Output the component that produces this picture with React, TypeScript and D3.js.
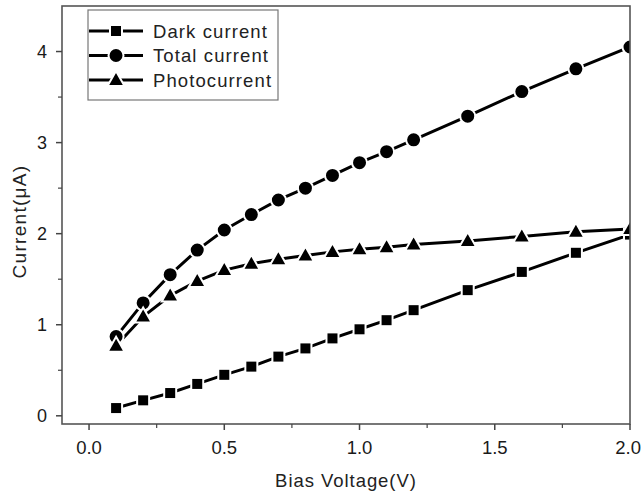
import React from "react";
import * as d3 from "d3";

const voltage = [0.1, 0.2, 0.3, 0.4, 0.5, 0.6, 0.7, 0.8, 0.9, 1.0, 1.1, 1.2, 1.4, 1.6, 1.8, 2.0];
const darkCurrent = [0.085, 0.17, 0.25, 0.35, 0.45, 0.54, 0.65, 0.74, 0.85, 0.95, 1.05, 1.16, 1.38, 1.58, 1.79, 1.99];
const totalCurrent = [0.87, 1.24, 1.55, 1.82, 2.04, 2.21, 2.37, 2.5, 2.64, 2.78, 2.9, 3.03, 3.29, 3.56, 3.81, 4.05];
const photoCurrent = [0.77, 1.09, 1.32, 1.48, 1.6, 1.67, 1.72, 1.76, 1.8, 1.83, 1.85, 1.88, 1.92, 1.97, 2.02, 2.05];
const seriesNames = ["Dark current", "Total current", "Photocurrent"];
const markerKinds = ["square", "circle", "triangle"];
const xTicks = [0.0, 0.5, 1.0, 1.5, 2.0];
const yTicks = [0, 1, 2, 3, 4];
const xLabel = "Bias Voltage(V)";
const yLabel = "Current(μA)";

const W = 642;
const H = 495;
const left = 62, right = 630, top = 6, bottom = 424;
const FONT = "'Liberation Sans', Arial, sans-serif";

function Marker({ kind, x, y }: { kind: string; x: number; y: number }) {
  if (kind === "square") {
    return <rect x={x - 6} y={y - 6} width={12} height={12} fill="#000" stroke="#fff" strokeWidth={2} />;
  }
  if (kind === "circle") {
    return <circle cx={x} cy={y} r={7.5} fill="#000" stroke="#fff" strokeWidth={2} />;
  }
  const s = 8.5;
  const h = 15;
  return (
    <path
      d={`M${x},${y - h * 0.6}L${x + s},${y + h * 0.4}L${x - s},${y + h * 0.4}Z`}
      fill="#000"
      stroke="#fff"
      strokeWidth={2}
    />
  );
}

export default function App() {
  const x = d3.scaleLinear().domain([-0.1, 2.0]).range([left, right]);
  const y = d3.scaleLinear().domain([-0.09, 4.5]).range([bottom, top]);
  const allSeries = [darkCurrent, totalCurrent, photoCurrent];
  const line = d3
    .line<number>()
    .x((_, i) => x(voltage[i]))
    .y((d) => y(d));
  const xMinor = d3.range(0.25, 2.0, 0.5);
  const yMinor = d3.range(0.5, 4.5, 1);

  return (
    <svg width={W} height={H} style={{ position: "absolute", left: 0, top: 0, background: "#fff" }}>
      <defs>
        <clipPath id="plotclip">
          <rect x={left} y={top} width={right - left} height={bottom - top} />
        </clipPath>
      </defs>
      <rect x={0} y={0} width={W} height={H} fill="#fff" />
      <g clipPath="url(#plotclip)">
        {allSeries.map((s, si) => (
          <path key={"l" + si} d={line(s) || ""} fill="none" stroke="#000" strokeWidth={3} />
        ))}
        {allSeries.map((s, si) =>
          s.map((v, i) => <Marker key={si + "-" + i} kind={markerKinds[si]} x={x(voltage[i])} y={y(v)} />)
        )}
      </g>
      <rect x={left} y={top} width={right - left} height={bottom - top} fill="none" stroke="#555" strokeWidth={1.6} />
      {xTicks.map((t, i) => {
        const last = i === xTicks.length - 1;
        return (
          <g key={"xt" + t}>
            <line x1={x(t)} x2={x(t)} y1={bottom} y2={bottom + 6} stroke="#444" strokeWidth={1.5} />
            <text
              x={last ? W - 1 : x(t)}
              y={454}
              textAnchor={last ? "end" : "middle"}
              fontFamily={FONT}
              fontSize={18.5}
              fill="#1a1a1a"
            >
              {t.toFixed(1)}
            </text>
          </g>
        );
      })}
      {xMinor.map((t) => (
        <line key={"xm" + t} x1={x(t)} x2={x(t)} y1={bottom} y2={bottom + 4} stroke="#444" strokeWidth={1.2} />
      ))}
      {yTicks.map((t) => (
        <g key={"yt" + t}>
          <line x1={left} x2={left - 6} y1={y(t)} y2={y(t)} stroke="#444" strokeWidth={1.5} />
          <text x={47} y={y(t) + 6.5} textAnchor="end" fontFamily={FONT} fontSize={18} fill="#1a1a1a">
            {t}
          </text>
        </g>
      ))}
      {yMinor.map((t) => (
        <line key={"ym" + t} x1={left} x2={left - 4} y1={y(t)} y2={y(t)} stroke="#444" strokeWidth={1.2} />
      ))}
      <text x={346} y={487} textAnchor="middle" fontFamily={FONT} fontSize={18.5} letterSpacing={0.95} fill="#222">
        {xLabel}
      </text>
      <text
        transform={`translate(25.5,221.5) rotate(-90)`}
        textAnchor="middle"
        fontFamily={FONT}
        fontSize={19}
        letterSpacing={1.3}
        fill="#222"
      >
        {yLabel}
      </text>
      <rect x={88} y={10} width={190} height={90} fill="#fff" stroke="#777" strokeWidth={1.2} />
      {seriesNames.map((n, i) => {
        const cy = 31 + i * 24.5;
        return (
          <g key={"lg" + i}>
            <line x1={89} x2={143} y1={cy} y2={cy} stroke="#000" strokeWidth={3} />
            <Marker kind={markerKinds[i]} x={116} y={cy} />
            <text x={153} y={cy + 6.5} fontFamily={FONT} fontSize={18.5} letterSpacing={1.1} fill="#222">
              {n}
            </text>
          </g>
        );
      })}
    </svg>
  );
}
